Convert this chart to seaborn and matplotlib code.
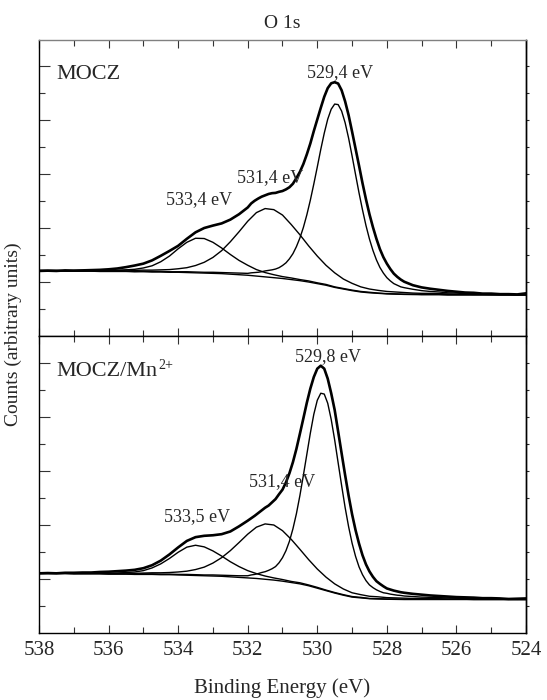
import matplotlib
matplotlib.use("Agg")
import matplotlib.pyplot as plt
from matplotlib.ticker import MultipleLocator, FixedLocator
import seaborn as sns

# ---------------- data ----------------
# binding-energy grid used by the broad components and the backgrounds
energy_coarse = [538, 537.75, 537.5, 537.25, 537, 536.75, 536.5, 536.25,
                 536, 535.75, 535.5, 535.25, 535, 534.75, 534.5, 534.25,
                 534, 533.75, 533.5, 533.25, 533, 532.75, 532.5, 532.25,
                 532, 531.75, 531.5, 531.25, 531, 530.75, 530.5, 530.25,
                 530, 529.75, 529.5, 529.25, 529, 528.75, 528.5, 528.25,
                 528, 527.75, 527.5, 527.25, 527, 526.75, 526.5, 526.25,
                 526, 525.75, 525.5, 525.25, 525, 524.75, 524.5, 524.25, 524]
# finer grid used by the measured spectra and the main lattice-oxygen peaks
energy_fine = [538, 537.75, 537.5, 537.25, 537, 536.75, 536.5, 536.25,
               536, 535.75, 535.5, 535.25, 535, 534.75, 534.5, 534.25,
               534, 533.75, 533.5, 533.25, 533, 532.75, 532.5, 532.25,
               532, 531.9, 531.8, 531.7, 531.6, 531.5, 531.4, 531.3, 531.2, 531.1, 531.0,
               530.9, 530.8, 530.7, 530.6, 530.5, 530.4, 530.3, 530.2, 530.1, 530.0,
               529.9, 529.8, 529.7, 529.6, 529.5, 529.4, 529.3, 529.2, 529.1, 529.0,
               528.9, 528.8, 528.7, 528.6, 528.5, 528.4, 528.3, 528.2, 528.1, 528.0,
               527.9, 527.8, 527.7, 527.6, 527.5, 527.25, 527,
               526.75, 526.5, 526.25, 526, 525.75, 525.5, 525.25, 525, 524.75, 524.5, 524.25, 524]

# ---- MOCZ (upper panel) ----
mocz_data = [2.41, 2.42, 2.41, 2.43, 2.42, 2.43, 2.44, 2.45,
             2.47, 2.50, 2.55, 2.61, 2.68, 2.80, 2.97, 3.15,
             3.34, 3.60, 3.84, 4.00, 4.09, 4.17, 4.31, 4.51,
             4.76, 4.91, 5.01, 5.09, 5.16, 5.21, 5.26, 5.29, 5.30, 5.34, 5.37,
             5.43, 5.51, 5.64, 5.85, 6.08, 6.37, 6.73, 7.13, 7.59, 8.02,
             8.45, 8.86, 9.18, 9.36, 9.40, 9.35, 9.10, 8.69, 8.18, 7.57,
             6.94, 6.31, 5.66, 5.06, 4.51, 4.03, 3.60, 3.22, 2.92, 2.68,
             2.48, 2.31, 2.19, 2.09, 2.01, 1.88, 1.80,
             1.75, 1.71, 1.67, 1.64, 1.61, 1.60, 1.57, 1.57, 1.55, 1.55, 1.54, 1.58]
mocz_529 = [2.42, 2.42, 2.42, 2.41, 2.41, 2.41, 2.41, 2.40,
            2.40, 2.40, 2.40, 2.39, 2.40, 2.39, 2.39, 2.38,
            2.38, 2.38, 2.37, 2.36, 2.36, 2.35, 2.34, 2.33,
            2.32, 2.34, 2.35, 2.36, 2.38, 2.41, 2.43, 2.45, 2.48, 2.53, 2.61,
            2.71, 2.86, 3.05, 3.31, 3.63, 4.02, 4.49, 5.03, 5.63, 6.26,
            6.91, 7.51, 8.03, 8.40, 8.59, 8.57, 8.33, 7.90, 7.33, 6.67,
            5.98, 5.30, 4.67, 4.09, 3.59, 3.17, 2.82, 2.54, 2.33, 2.16,
            2.04, 1.94, 1.88, 1.82, 1.79, 1.73, 1.68,
            1.65, 1.63, 1.60, 1.59, 1.57, 1.56, 1.55, 1.55, 1.54, 1.54, 1.53, 1.53]
mocz_bg = [2.41, 2.41, 2.41, 2.40, 2.40, 2.40, 2.40, 2.39,
           2.39, 2.39, 2.39, 2.38, 2.38, 2.37, 2.37, 2.36,
           2.36, 2.35, 2.34, 2.33, 2.32, 2.31, 2.29, 2.27,
           2.25, 2.22, 2.19, 2.16, 2.13, 2.09, 2.05, 2.00,
           1.94, 1.88, 1.80, 1.74, 1.68, 1.63, 1.60, 1.58,
           1.56, 1.55, 1.54, 1.535, 1.53, 1.53, 1.53, 1.52,
           1.52, 1.52, 1.52, 1.52, 1.52, 1.52, 1.52, 1.52, 1.52]
mocz_533 = [2.42, 2.42, 2.42, 2.42, 2.42, 2.42, 2.43, 2.42,
            2.43, 2.43, 2.45, 2.47, 2.52, 2.60, 2.75, 2.96,
            3.23, 3.47, 3.62, 3.61, 3.47, 3.26, 3.02, 2.80,
            2.62, 2.46, 2.35, 2.27, 2.20, 2.15, 2.09, 2.04,
            1.97, 1.91, 1.82, 1.76, 1.70, 1.65, 1.62, 1.59,
            1.57, 1.56, 1.55, 1.55, 1.54, 1.54, 1.54, 1.53,
            1.53, 1.53, 1.53, 1.53, 1.53, 1.53, 1.53, 1.53, 1.53]
mocz_531 = [2.43, 2.43, 2.43, 2.42, 2.43, 2.43, 2.43, 2.42,
            2.43, 2.43, 2.44, 2.43, 2.44, 2.44, 2.45, 2.46,
            2.49, 2.53, 2.61, 2.73, 2.91, 3.16, 3.49, 3.86,
            4.25, 4.57, 4.72, 4.68, 4.48, 4.13, 3.75, 3.34,
            2.96, 2.62, 2.34, 2.11, 1.95, 1.82, 1.74, 1.69,
            1.65, 1.63, 1.61, 1.59, 1.58, 1.58, 1.57, 1.56,
            1.55, 1.55, 1.54, 1.54, 1.53, 1.53, 1.53, 1.52, 1.52]

# ---- MOCZ/Mn2+ (lower panel) ----
mn_data = [2.21, 2.22, 2.21, 2.23, 2.23, 2.24, 2.24, 2.26,
           2.27, 2.29, 2.31, 2.34, 2.40, 2.51, 2.68, 2.91,
           3.17, 3.41, 3.55, 3.60, 3.62, 3.66, 3.76, 3.95,
           4.16, 4.25, 4.34, 4.44, 4.54, 4.64, 4.72, 4.84, 4.96, 5.14, 5.31,
           5.58, 5.92, 6.33, 6.82, 7.38, 7.95, 8.53, 9.05, 9.48, 9.79,
           9.90, 9.79, 9.42, 8.88, 8.26, 7.46, 6.65, 5.85, 5.09, 4.40,
           3.81, 3.31, 2.88, 2.54, 2.28, 2.08, 1.92, 1.82, 1.73, 1.65,
           1.61, 1.57, 1.54, 1.51, 1.49, 1.45, 1.42,
           1.39, 1.37, 1.35, 1.33, 1.32, 1.31, 1.29, 1.29, 1.28, 1.26, 1.27, 1.28]
mn_529 = [2.21, 2.21, 2.21, 2.21, 2.20, 2.20, 2.20, 2.20,
          2.19, 2.19, 2.19, 2.19, 2.19, 2.19, 2.18, 2.18,
          2.17, 2.17, 2.16, 2.15, 2.15, 2.14, 2.13, 2.12,
          2.12, 2.15, 2.17, 2.20, 2.24, 2.27, 2.32, 2.38, 2.46, 2.60, 2.79,
          3.05, 3.40, 3.86, 4.42, 5.09, 5.84, 6.62, 7.40, 8.10, 8.62,
          8.88, 8.85, 8.51, 7.91, 7.15, 6.30, 5.46, 4.65, 3.94, 3.33,
          2.84, 2.45, 2.16, 1.94, 1.78, 1.68, 1.60, 1.54, 1.49, 1.47,
          1.44, 1.42, 1.40, 1.39, 1.37, 1.35, 1.33,
          1.32, 1.31, 1.30, 1.29, 1.28, 1.28, 1.27, 1.27, 1.26, 1.26, 1.25, 1.25]
mn_bg = [2.20, 2.20, 2.20, 2.20, 2.19, 2.19, 2.19, 2.19,
         2.18, 2.18, 2.18, 2.17, 2.17, 2.17, 2.16, 2.16,
         2.15, 2.14, 2.13, 2.12, 2.11, 2.10, 2.08, 2.06,
         2.04, 2.02, 1.99, 1.96, 1.92, 1.87, 1.82, 1.75,
         1.66, 1.57, 1.48, 1.40, 1.33, 1.30, 1.27, 1.26,
         1.25, 1.245, 1.24, 1.24, 1.24, 1.24, 1.24, 1.24,
         1.24, 1.24, 1.24, 1.24, 1.24, 1.24, 1.24, 1.24, 1.24]
mn_533 = [2.21, 2.21, 2.21, 2.22, 2.21, 2.21, 2.21, 2.22,
          2.21, 2.22, 2.24, 2.26, 2.31, 2.41, 2.56, 2.76,
          2.99, 3.18, 3.25, 3.19, 3.04, 2.85, 2.64, 2.46,
          2.31, 2.20, 2.11, 2.04, 1.98, 1.91, 1.86, 1.78,
          1.69, 1.59, 1.50, 1.42, 1.35, 1.32, 1.28, 1.27,
          1.26, 1.26, 1.25, 1.25, 1.25, 1.25, 1.25, 1.25,
          1.25, 1.25, 1.24, 1.24, 1.24, 1.24, 1.24, 1.24, 1.24]
mn_531 = [2.22, 2.22, 2.22, 2.22, 2.21, 2.21, 2.22, 2.22,
          2.21, 2.21, 2.22, 2.21, 2.22, 2.23, 2.23, 2.24,
          2.26, 2.29, 2.35, 2.44, 2.59, 2.79, 3.05, 3.35,
          3.66, 3.92, 4.04, 4.00, 3.79, 3.47, 3.10, 2.72,
          2.37, 2.07, 1.82, 1.63, 1.49, 1.42, 1.36, 1.34,
          1.31, 1.30, 1.29, 1.28, 1.28, 1.27, 1.27, 1.26,
          1.26, 1.26, 1.25, 1.25, 1.25, 1.25, 1.25, 1.24, 1.24]

x_ticks = [538, 536, 534, 532, 530, 528, 526, 524]
x_tick_labels = ["538", "536", "534", "532", "530", "528", "526", "524"]

top_labels = ["533,4 eV", "531,4 eV", "529,4 eV"]
top_label_pos = [(533.4, 5.05), (531.35, 5.85), (529.35, 9.75)]
bot_labels = ["533,5 eV", "531,4 eV", "529,8 eV"]
bot_label_pos = [(533.45, 4.30), (531.0, 5.60), (529.7, 10.25)]

# ---------------- style ----------------
sns.set_theme(style="ticks")
plt.rcParams["font.family"] = ["Liberation Serif", "DejaVu Serif"]
plt.rcParams["axes.linewidth"] = 1.0

W, H = 547, 700
fig = plt.figure(figsize=(W / 100, H / 100), dpi=100)
fig.patch.set_facecolor("white")

left = 39 / W
width = (526 - 39) / W
ax_top = fig.add_axes([left, 1 - 336 / H, width, 296 / H])
ax_bot = fig.add_axes([left, 1 - 633 / H, width, 297 / H])


def line(ax, x, y, lw):
    sns.lineplot(x=x, y=y, ax=ax, color="black", linewidth=lw,
                 estimator=None, sort=False)


def draw(ax, data, main, bg, c533, c531, ymax):
    line(ax, energy_coarse, c533, 1.0)
    line(ax, energy_coarse, c531, 1.0)
    line(ax, energy_fine, main, 1.0)
    line(ax, energy_coarse, bg, 1.0)
    line(ax, energy_fine, data, 1.9)
    ax.set_xlim(538, 524)
    ax.set_ylim(0, ymax)
    ax.set_facecolor("white")
    for s in ax.spines.values():
        s.set_color("black")
        s.set_linewidth(1.0)
    ax.yaxis.set_major_locator(FixedLocator([2, 4, 6, 8, 10]))
    ax.yaxis.set_minor_locator(FixedLocator([1, 3, 5, 7, 9]))
    ax.xaxis.set_major_locator(FixedLocator(x_ticks))
    ax.xaxis.set_minor_locator(MultipleLocator(1))
    ax.tick_params(axis="y", which="major", direction="in", length=8, width=0.8,
                   left=True, right=False, labelleft=False, color="#333333")
    ax.tick_params(axis="y", which="minor", direction="in", length=4, width=0.8,
                   left=True, right=False, color="#333333")
    ax.tick_params(axis="x", which="major", direction="in", length=6, width=0.8,
                   top=True, bottom=True, color="#333333")
    ax.tick_params(axis="x", which="minor", direction="in", length=4, width=0.8,
                   top=True, bottom=True, color="#333333")
    ax.set_xlabel("")
    ax.set_ylabel("")
    sec = ax.secondary_yaxis("right")
    sec.set_yticks([1, 2, 3, 4, 5, 6, 7, 8, 9, 10])
    sec.tick_params(direction="out", length=2.5, width=0.8, labelright=False)
    sec.spines["right"].set_color("black")


draw(ax_top, mocz_data, mocz_529, mocz_bg, mocz_533, mocz_531, 296 / 27)
draw(ax_bot, mn_data, mn_529, mn_bg, mn_533, mn_531, 297 / 27)
ax_top.spines["top"].set_color("#808080")

ax_top.tick_params(axis="x", labelbottom=False)
ax_bot.set_xticklabels(x_tick_labels)
ax_bot.tick_params(axis="x", which="major", labelsize=15, pad=6)

for (ex, ey), t in zip(top_label_pos, top_labels):
    ax_top.text(ex, ey, t, ha="center", va="center", fontsize=13)
for (ex, ey), t in zip(bot_label_pos, bot_labels):
    ax_bot.text(ex, ey, t, ha="center", va="center", fontsize=13)

ax_top.text(537.5, 9.68, "MOCZ", ha="left", va="center", fontsize=16)
mn_txt = ax_bot.text(537.5, 9.68, "MOCZ/Mn", ha="left", va="center", fontsize=16)

fig.text(282.5 / W, 1 - 24 / H, "O 1s", ha="center", va="center", fontsize=14)
fig.text(282.5 / W, 1 - 688 / H, "Binding Energy (eV)", ha="center", va="center", fontsize=15)
fig.text(13 / W, 1 - 334 / H, "Counts (arbitrary units)", ha="center", va="center",
         rotation=90, fontsize=14)

# superscript "2+" placed right after "MOCZ/Mn"
fig.canvas.draw()
bb = mn_txt.get_window_extent(renderer=fig.canvas.get_renderer())
fig.text((bb.x1 + 1) / W, (bb.y1 + 3) / H, "2+", ha="left", va="top", fontsize=10)

fig.savefig("out.png", dpi=100, facecolor="white")
